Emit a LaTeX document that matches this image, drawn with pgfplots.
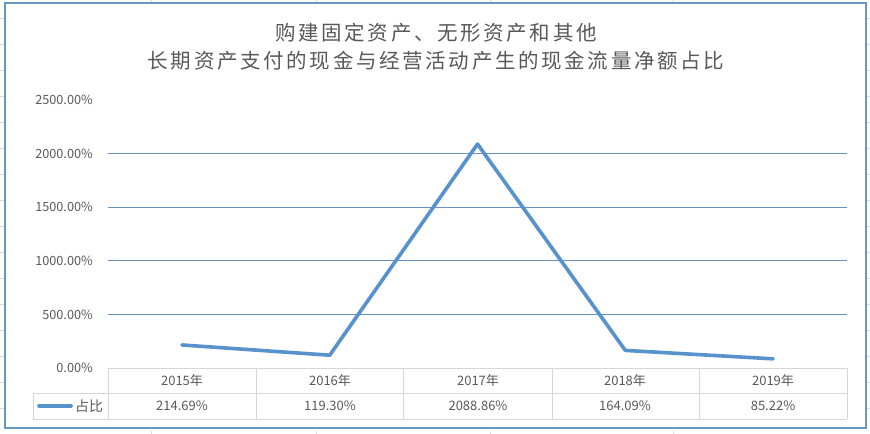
\documentclass[border=0pt]{standalone}
\usepackage{pgfplots}
\pgfplotsset{compat=1.18}
\usepackage{fontspec}
\setmainfont{Noto Sans CJK SC}
\newfontfamily\titlefont[LetterSpace=13]{Noto Sans CJK SC}

\definecolor{txt}{HTML}{595959}
\definecolor{series}{RGB}{88,146,204}
\definecolor{gridc}{RGB}{100,146,186}
\definecolor{frame}{RGB}{104,152,194}
\definecolor{cell}{HTML}{D6D6D6}
\definecolor{sheet}{HTML}{DADADA}

\begin{document}
\begin{tikzpicture}[x=1bp,y=1bp]
\useasboundingbox (0,0) rectangle (870,434);
% spreadsheet cells behind the chart
\foreach \yy in {18,44,70,96,122,148,174,200,226,252,278,304,330,356,382,408}
  \draw[sheet,line width=0.8bp] (0,434-\yy) -- (870,434-\yy);
\foreach \xx in {151,316,490,673}
  \draw[sheet,line width=0.8bp] (\xx,0) -- (\xx,434);
\fill[white] (5,3) rectangle (866,431);
\draw[frame,line width=2.8bp] (5,6) rectangle (866,431);

% title
\node[text=txt,font=\titlefont\fontsize{20.5bp}{24bp}\selectfont] at (436,434-33) {购建固定资产、无形资产和其他};
\node[text=txt,font=\titlefont\fontsize{20.5bp}{24bp}\selectfont] at (436,434-61) {长期资产支付的现金与经营活动产生的现金流量净额占比};

\begin{axis}[
  scale only axis,
  width=739bp, height=268bp,
  at={(108bp,66bp)}, anchor=south west,
  xmin=-0.5, xmax=4.5,
  ymin=0, ymax=2500,
  axis line style={draw=none},
  xtick=\empty,
  ytick={500,1000,1500,2000},
  yticklabels={500.00\%,1000.00\%,1500.00\%,2000.00\%},
  extra y ticks={0,2500},
  extra y tick labels={0.00\%,2500.00\%},
  extra y tick style={grid=none},
  ymajorgrids,
  grid style={gridc,line width=0.9bp},
  major tick length=0pt,
  /pgf/number format/assume math mode=true,
  yticklabel style={text=txt,font=\fontsize{12.7bp}{15bp}\selectfont,anchor=east,inner sep=0pt,xshift=-15bp},
  clip=false,
]
\addplot[series,line width=3.6bp,line join=round,line cap=round] coordinates {
  (0,214.69) (1,119.30) (2,2088.86) (3,164.09) (4,85.22)
};
\end{axis}

% data table
\begin{scope}[cell,line width=0.8bp]
  \draw (108,434-368) -- (847,434-368);
  \draw (33,434-393) -- (847,434-393);
  \draw (33,434-419) -- (847,434-419);
  \draw (33,434-393) -- (33,434-419);
  \foreach \xx in {108,256,403,552,699,847}
    \draw (\xx,434-368) -- (\xx,434-419);
\end{scope}
\begin{scope}[every node/.style={text=txt,font=\fontsize{13bp}{15bp}\selectfont}]
  \node at (182,434-381) {2015年};
  \node at (330,434-381) {2016年};
  \node at (478,434-381) {2017年};
  \node at (625,434-381) {2018年};
  \node at (773,434-381) {2019年};
  \node at (182,434-406) {214.69\%};
  \node at (330,434-406) {119.30\%};
  \node at (478,434-406) {2088.86\%};
  \node at (625,434-406) {164.09\%};
  \node at (773,434-406) {85.22\%};
  \node[anchor=west,inner sep=0pt,font=\fontsize{14bp}{16bp}\selectfont] at (75,434-406) {占比};
\end{scope}
\draw[series,line width=3.6bp,line cap=round] (39,434-406) -- (71,434-406);
\end{tikzpicture}
\end{document}
